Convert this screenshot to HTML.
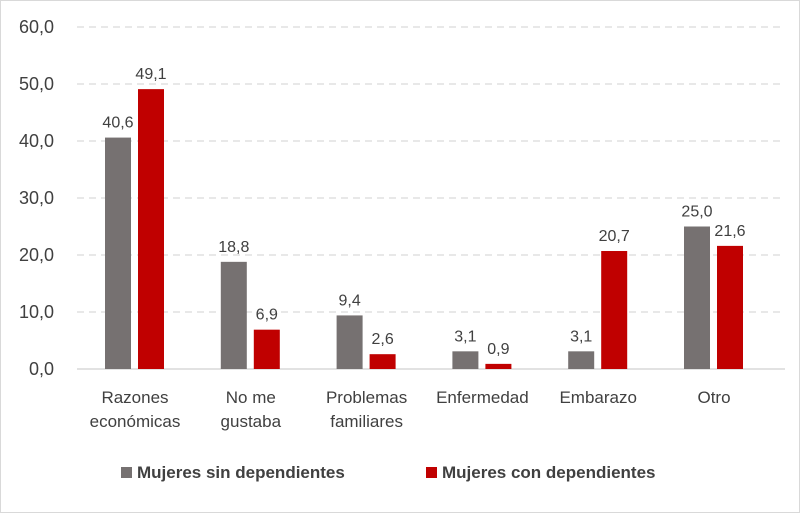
<!DOCTYPE html>
<html><head><meta charset="utf-8"><style>
body{margin:0;background:#fff}
svg{display:block;font-family:"Liberation Sans",sans-serif}
</style></head><body>
<svg id="c" width="800" height="513">
<rect x="0.5" y="0.5" width="799" height="512" fill="#fff" stroke="#d9d9d9"/>
</svg>
<script>
const categories=[["Razones","económicas"],["No me","gustaba"],["Problemas","familiares"],["Enfermedad"],["Embarazo"],["Otro"]];
const sinDep=[40.6,18.8,9.4,3.1,3.1,25.0];
const conDep=[49.1,6.9,2.6,0.9,20.7,21.6];
const ticks=[0,10,20,30,40,50,60];
const seriesNames=["Mujeres sin dependientes","Mujeres con dependientes"];
const svg=document.getElementById('c');
const NS='http://www.w3.org/2000/svg';
const x0=77,x1=785,y0=369,ymax=60,ytop=27;
const y=v=>y0-(v/ymax)*(y0-ytop);
const bw=115.8, c0=135;
function mk(t,a,txt){const e=document.createElementNS(NS,t);for(const k in a)e.setAttribute(k,a[k]);if(txt!=null)e.textContent=txt;svg.appendChild(e);return e;}
const fmt=v=>v.toFixed(1).replace('.',',');
ticks.forEach(t=>{
 const l=mk('line',{x1:x0,x2:x1,y1:y(t),y2:y(t),stroke:t===0?'#d0d0d0':'#d9d9d9','stroke-width':1.3,'stroke-dasharray':t===0?'':'7,5'});
 
 
 const tx=mk('text',{x:54,y:y(t)+6,'text-anchor':'end','font-size':18,fill:'#404040'},fmt(t));
 
 
});
categories.forEach((c,i)=>{
 const cx=c0+bw*i;
 [[sinDep[i],'#767171',cx-30],[conDep[i],'#c00000',cx+3]].forEach(([v,col,bx],s)=>{
  const r=mk('rect',{x:bx,y:y(v),width:26,height:y0-y(v),fill:col});
  
  
  const t=mk('text',{x:bx+13,y:y(v)-10,'text-anchor':'middle','font-size':16,fill:'#404040'},fmt(v));
  
  
 });
 c.forEach((ln,j)=>{
  const t=mk('text',{x:cx,y:403+j*24,'text-anchor':'middle','font-size':17,fill:'#404040'},ln);
  
  
 });
});
[[121,'#767171'],[426,'#c00000']].forEach(([lx,col],i)=>{
 const r=mk('rect',{x:lx,y:467,width:11,height:11,fill:col});
 
 
 const t=mk('text',{x:lx+16,y:478,'font-size':17,'font-weight':'bold',fill:'#404040'},seriesNames[i]);
 
 
});
</script>
</body></html>
